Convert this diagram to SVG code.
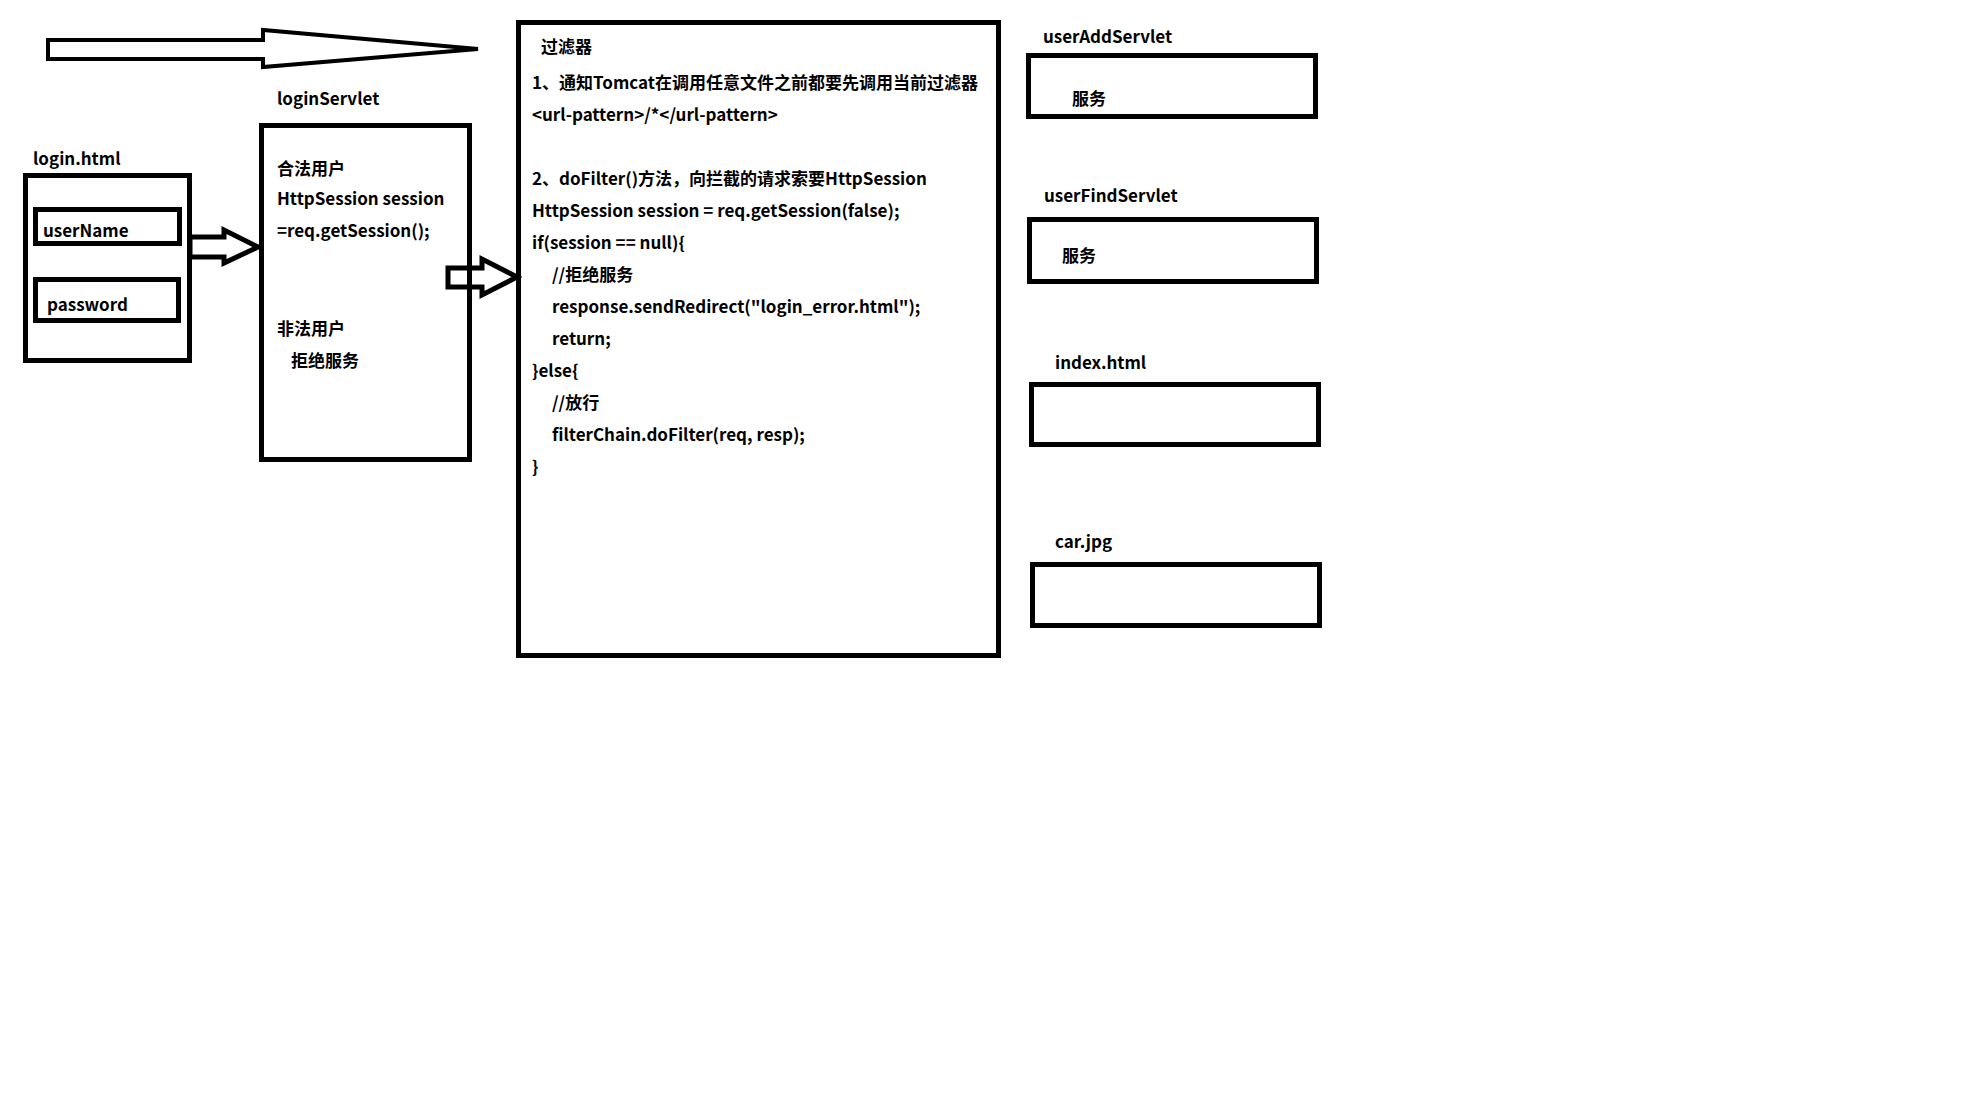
<svg xmlns="http://www.w3.org/2000/svg" width="1962" height="1109" viewBox="0 0 1962 1109">
<style>
  text { font-family: "Noto Sans CJK SC", "Liberation Sans", sans-serif; font-size: 17px; font-weight: bold; fill: #000; }
  .box { fill: none; stroke: #000; stroke-width: 5; }
  .arrow { fill: none; stroke: #000; stroke-width: 5; stroke-linejoin: miter; }
</style>
<rect x="0" y="0" width="1962" height="1109" fill="#fff"/>

<g id="connectors">
  <polygon class="arrow" style="stroke-width:4" points="48,40 263,40 263,30 478,49 263,67 263,59 48,59"/>
  <polygon class="arrow" points="190,237 224,237 224,230 258,247 224,263 224,257 190,257"/>
  <polygon class="arrow" points="448,268 482,268 482,259 517,277 482,295 482,287 448,287"/>
</g>

<g id="login-html">
  <text x="33" y="165">login.html</text>
  <rect class="box" x="25.5" y="175.5" width="164" height="185"/>
  <g id="userName-field">
    <rect class="box" x="35.5" y="209.5" width="144" height="34"/>
    <text x="43" y="237">userName</text>
  </g>
  <g id="password-field">
    <rect class="box" x="35.5" y="279.5" width="143" height="41"/>
    <text x="47" y="311">password</text>
  </g>
</g>

<g id="loginServlet">
  <text x="277" y="105">loginServlet</text>
  <rect class="box" x="261.5" y="125.5" width="208" height="334"/>
  <text x="277" y="175">合法用户</text>
  <text x="277" y="205">HttpSession session</text>
  <text x="277" y="237">=req.getSession();</text>
  <text x="277" y="335">非法用户</text>
  <text x="291" y="367">拒绝服务</text>
</g>

<g id="filter">
  <rect class="box" x="518.5" y="22.5" width="480" height="633"/>
  <text x="541" y="53">过滤器</text>
  <text x="532" y="89">1、通知Tomcat在调用任意文件之前都要先调用当前过滤器</text>
  <text x="532" y="121">&lt;url-pattern&gt;/*&lt;/url-pattern&gt;</text>
  <text x="532" y="185">2、doFilter()方法，向拦截的请求索要HttpSession</text>
  <text x="532" y="217">HttpSession session = req.getSession(false);</text>
  <text x="532" y="249">if(session == null){</text>
  <text x="552" y="281">//拒绝服务</text>
  <text x="552" y="313">response.sendRedirect("login_error.html");</text>
  <text x="552" y="345">return;</text>
  <text x="532" y="377">}else{</text>
  <text x="552" y="409">//放行</text>
  <text x="552" y="441">filterChain.doFilter(req, resp);</text>
  <text x="532" y="473">}</text>
</g>

<g id="userAddServlet">
  <text x="1043" y="43">userAddServlet</text>
  <rect class="box" x="1028.5" y="55.5" width="287" height="61"/>
  <text x="1072" y="105">服务</text>
</g>

<g id="userFindServlet">
  <text x="1044" y="202">userFindServlet</text>
  <rect class="box" x="1029.5" y="219.5" width="287" height="62"/>
  <text x="1062" y="262">服务</text>
</g>

<g id="index-html">
  <text x="1055" y="369">index.html</text>
  <rect class="box" x="1031.5" y="384.5" width="287" height="60"/>
</g>

<g id="car-jpg">
  <text x="1055" y="548">car.jpg</text>
  <rect class="box" x="1032.5" y="564.5" width="287" height="61"/>
</g>
</svg>
